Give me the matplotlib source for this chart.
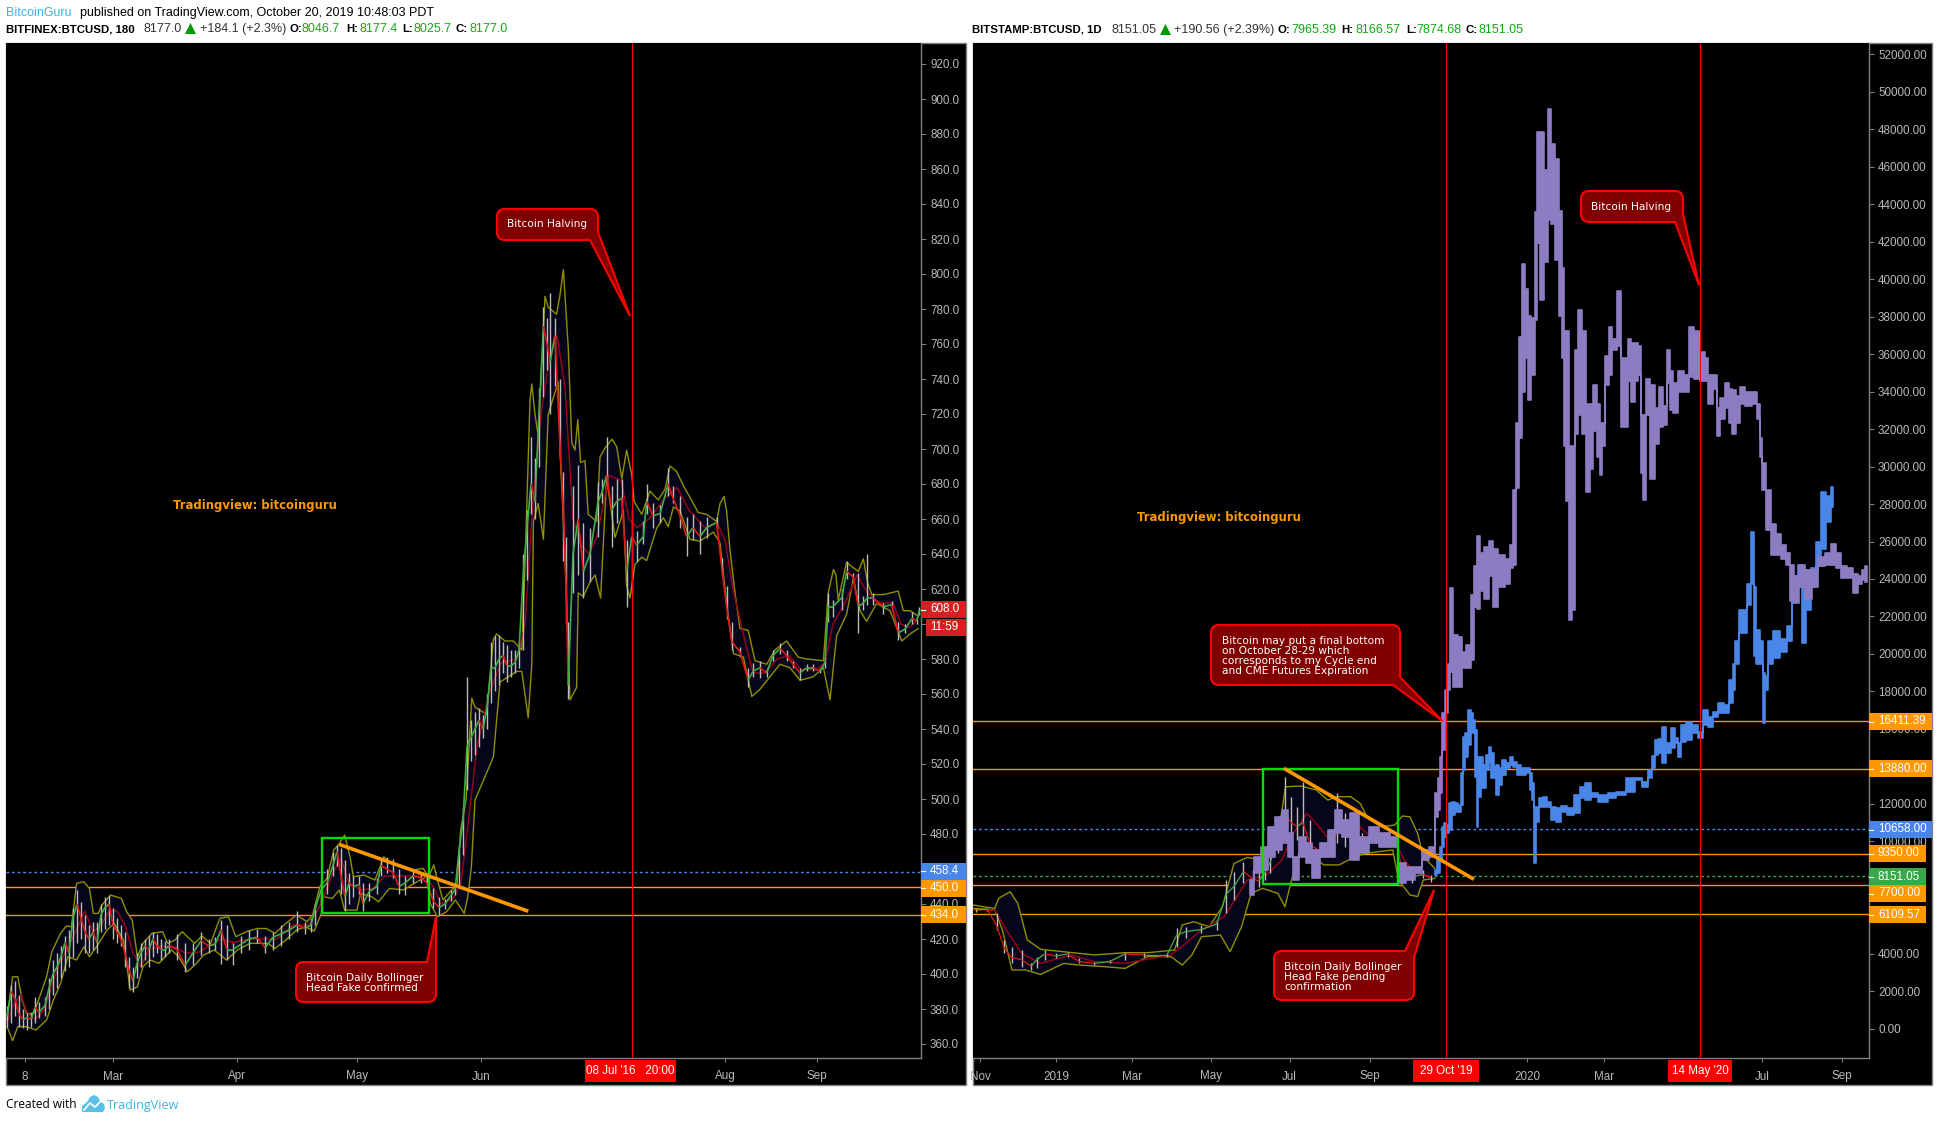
import numpy as np
import matplotlib
matplotlib.use("Agg")
import matplotlib.pyplot as plt
from matplotlib.path import Path
from matplotlib.patches import PathPatch, Rectangle, Polygon
from matplotlib.lines import Line2D
from matplotlib.collections import LineCollection
from matplotlib.transforms import Affine2D

plt.rcParams['font.family'] = ['Liberation Sans', 'DejaVu Sans']

W, H = 1939, 1122

# ---- left chart, BITFINEX 2016, x is days since 8 Feb (Aug halt squeezed out)
l_days = [-4.5,-3.5,-2.5,-1.5,-0.5,0.5,1.5,2.5,3.5,5,6,7,8,9,10,11,12,13,14,15,16,17,18,19,20,21,22,23,24,25,26,27,28,29,30,31,32,33,34,35,
          36,38,40,42,44,46,47.5,49,50.5,52,54,56,58,60,62,64,66,68,70,71.5,72.5,74,75.5,77,78,79,80,81,82,83.5,84.5,86,88,89,90.5,92,93.5,95,97,99,100.5,
          102,103.5,105,106.5,107.5,108.5,109.5,110.5,111.5,112.5,113.5,114.5,115.5,116.5,117.5,118.5,119.5,120.5,121.5,122.5,123.5,124.6,125.5,126.5,127.5,128.5,129.6,130.5,131.3,132.5,133.8,134.6,135.3,135.8,
          137,138.3,139.6,141.25,143.3,144.2,145.4,146.7,147.9,149.2,150.4,151.7,152.9,154.6,155.4,157,158.75,160.8,162,163.75,165.4,167,168.75,170.4,172.9,174.2,175.4,176.7,178.75,180.8,182,183.75,185.4,187,188.75,190.4,192,193.75,195.4,197,198.75,200,200.8,202,204.2,205.4,207,208.3,209.6,210.6,212,214.6,216.7,218.3,220,221.7,223,223.6]
l_low = [370,372,376,370,369,368,370,372,375,376,380,388,392,398,402,404,410,418,420,412,412,414,412,424,426,428,420,418,416,404,392,390,398,404,408,404,410,412,408,410,
         412,408,401,405,411,412,414,406,408,405,412,414,418,412,414,416,420,424,423,424,428,440,446,456,462,446,436,440,444,446,436,442,446,456,458,455,446,445,452,452,450,
         438,434,437,442,445,449,468,505,522,525,530,535,540,555,562,565,572,567,570,572,575,585,625,663,660,690,730,745,720,736,695,636,600,557,
         618,628,615,624,650,669,679,644,658,663,610,618,636,646,663,655,658,673,669,655,639,648,640,649,655,628,603,585,581,564,570,569,570,579,583,579,575,568,573,573,572,575,601,604,608,626,624,595,608,611,611,606,609,591,595,600,600,605]
l_high = [382,394,396,388,380,378,378,387,384,387,398,408,412,416,422,425,438,448,441,434,428,430,430,440,444,445,438,432,428,424,410,404,412,418,420,422,424,423,420,419,
          420,423,418,418,424,420,421,431,428,418,422,425,426,422,424,428,430,436,430,432,440,453,460,470,474,472,465,458,456,456,452,452,455,466,467,466,460,456,460,458,458,
          449,444,443,448,450,474,495,570,545,550,552,548,560,590,593,594,590,588,585,585,590,640,665,707,695,735,781,775,789,775,740,687,650,601,
          679,691,658,655,681,683,707,679,683,683,648,665,653,659,680,669,668,689,679,673,661,663,659,661,661,638,622,601,587,575,578,579,575,585,589,585,579,575,577,577,575,581,618,614,620,636,629,629,616,640,618,612,613,601,600,607,604,610]
l_close = [376,390,386,377,374,375,374,381,378,382,392,400,404,410,418,412,432,440,432,424,420,424,418,434,438,440,428,424,420,412,402,396,406,412,416,414,420,416,414,414,
           416,414,405,412,419,416,417,425,414,414,417,420,421,415,421,423,425,428,426,428,437,448,452,462,470,456,444,452,450,451,440,447,450,462,460,458,450,452,456,455,452,
           442,438,440,445,448,470,488,530,535,540,545,540,552,575,575,580,582,576,576,578,585,630,655,680,670,720,770,760,750,765,700,665,620,565,
           640,660,630,640,670,675,685,665,670,672,630,650,645,650,670,662,663,680,672,662,650,655,650,655,658,632,610,590,584,568,573,575,572,582,586,582,577,572,575,575,573,578,610,610,615,630,627,610,612,615,615,610,611,595,597,603,602,608]

l_up_days = [-4.5,-3.1,-1.8,-0.7,0.4,2.2,5.4,6.7,8.9,10.3,11.6,12.9,14.7,16.1,17.1,18.3,19.2,21.4,24.1,25.4,26.8,28.1,29.5,31.7,34.4,35.7,37.5,39.3,40.6,42.4,44.2,46.4,48.7,50.9,52.7,55.4,58,60.3,62.5,65.2,67.9,70.5,71.9,73.7,75.5,77.2,78.6,79.9,81.25,82.1,84.8,87.5,89.7,91.5,93.75,97.3,99.5,100.9,102.2,103.1,104.5,106.25,108,108.9,110.25,
             111.7,112.5,115.4,117.1,117.9,120,122.1,124.2,125,126.25,126.7,127.5,128.3,129.2,130,130.8,132.9,133.75,134.6,135.4,135.8,136.7,137.5,138.2,138.9,140,140.8,142.9,143.75,145,146.7,147.9,149.2,150.4,151.7,152.3,154.2,156.25,158.3,160,161.25,162.9,164.6,167.1,168.3,170.4,172.9,173.75,174.75,175.4,176.25,177.5,178.75,180.8,182.1,182.5,185.4,187.5,190.4,193.3,195.4,199.6,200.8,202.1,202.75,203.3,205.4,208.3,209.6,210.6,211.7,214.6,218.3,219.6,221.25,223.3]
l_up = [373.7,398.4,398.4,385.1,377.5,377.5,398.4,412.7,423.2,427.4,427,451.8,452.7,448.9,434.6,434.6,439.4,445.1,443.2,435.6,430.8,409.9,417.5,423.2,424.2,417.5,419.4,424.2,421.3,417.5,421.7,417.5,431.8,432.7,421.3,424.2,426,426,423.2,428.9,433.7,429.9,433.7,449.9,454.6,470.8,474.6,479.4,467,455.6,456.5,453.7,467,463.2,461.3,459.4,460.4,455.6,462.3,453.7,442.3,447,450.8,482,499.4,
        557.6,552.5,548.4,591.3,594.3,590.3,590.3,585.2,634.1,728,737.2,719.9,707.6,748.4,787.2,781,777,788.2,802.5,773,758.6,703.5,699.4,716.8,692.3,693.3,662.7,658.6,695.4,700.5,705.6,701.5,683.1,699.4,685.2,669.9,662.7,676,670.9,677,690.3,687.2,679,668.8,663.7,662.7,658.6,668.8,672.9,664.7,642.3,617.8,597.4,596.4,583.1,579,577,585.2,590.3,581.1,580,579,617.8,631.1,628,613.7,635.2,630,637.2,624,616.8,616.8,618.8,607.6,607.6,604.5]
l_dn_days = [-4.5,-3.1,-1.8,0.4,2.7,5.4,7.1,8.9,10.7,12.9,14.7,16.1,17.9,20.5,22.3,24.6,26.3,28.1,29.5,31.25,33.5,36.6,38.4,40.6,42.9,44.6,47.3,50.4,53.1,56.25,60.7,62.5,65.2,67.9,70.1,72.3,74.1,74.5,76.8,78.6,79.9,83,83.9,86.6,88.4,91.1,94.6,97.3,100.4,101.3,103.1,105.4,107.6,109.8,110.7,111.6,112.5,
             117.1,118.75,122.9,124.2,125.8,126.7,127.1,128.3,129.6,130.8,133.3,133.75,135,136.25,137.9,138.3,139.6,141.25,142.5,143.9,145.4,147.5,149.6,150.4,151.25,152.5,154.2,155.4,157.9,159.6,160.8,162.1,163.75,166.25,168.75,172.1,173.75,175.4,177.1,179.6,181.7,183.75,186.25,188.75,191.25,193.75,197.1,199.6,201.25,202.9,205.4,207.1,208.75,210.4,212.9,216.25,219.2,221.25,223.3]
l_dn = [369.9,361.9,369.9,369.9,368,373.7,385.1,394.6,409.9,408,415.6,409.9,415.6,425.1,428.9,419.4,390.8,392.7,404.2,408,406.1,413.7,409.9,401.3,406.1,410.8,413.7,408,413.7,417.5,417.5,414.6,419.4,425.1,427,424.5,434.6,444.2,443.2,448,436.5,436.5,446,444.2,441.3,448.9,448,451.8,455.6,440.4,432.7,435.6,442.3,434.6,444.2,461.3,499.4,
        524,566.8,572.9,572.9,546.4,577,658.6,668.8,648.4,719.9,738.2,699.4,638.2,556.6,563.7,617.8,615.8,624,628,614.8,683.1,649.4,664.7,621.9,614.8,634.1,638.2,636.2,654.6,660.7,655.6,666.8,664.7,648.4,647.4,652.5,646.4,611.7,583.1,581.1,558.6,562.7,569.9,577,575,567.8,569.9,575,556.6,593.3,605.6,626,607.6,601.5,611.7,607.6,590.3,594.3,597.4]
l_mid_days = [-4.5,-3,-1,0.5,2.5,5,7,9,11,13,15,17,19,21,23,25,27,29,31,34,37,40,43,46,49,52,56,60,63,67,71,74,77,79,81,84,87,90,93,97,100,102,104,107,109,111,113,116,119,123,125,127,129,131,133,135,137,139,141,143,146,149,151,153,156,160,163,166,170,173,175,177,180,182,185,188,191,194,198,200,202,205,208,210,213,217,219,221,223]
l_mid = [372,382,388,378,374,380,396,408,416,426,436,424,428,436,436,428,412,404,414,416,416,412,412,416,420,418,420,420,420,428,428,440,458,466,452,448,449,456,456,456,456,450,440,443,452,490,530,560,578,580,600,670,720,750,765,735,660,645,640,650,685,682,660,655,660,672,678,665,655,658,648,620,590,572,572,580,582,574,574,578,600,612,628,620,612,612,600,598,602]

l_yticks = list(range(360, 921, 20))
l_xticks = [0, 22, 53, 83, 114, 175, 198]
l_xlabels = ['8', 'Mar', 'Apr', 'May', 'Jun', 'Aug', 'Sep']
l_halving = 151.75
l_orange = [450.0, 434.0]
l_blue = 458.4
l_trend_x, l_trend_y = [79, 125.4], [473.7, 436.2]
l_box = (74.3, 435, 26.6, 43)

# ---- right chart, BITSTAMP daily, x is days since 1 Jan 2020
r_days = [-427.4,-418.5,-411.1,-405.2,-399.3,-391.8,-384.4,-380,-374,-365.1,-356.2,-347.3,-335.5,-323.6,-311.7,-296.9,-279.1,-271.7,-264.3,-252.4,-240.6,-233.1,-227.2,-219.8,-212.4,-207.9,-203.5,-199,-193.1,-187.7,-182.7,-178.2,-173.8,-167.9,-160.5,-153,-147.1,-141.2,-135.2,-127.8,-118.9,-107.1,-101.1,-96.7,-89.2,-80.4,-74.4]
r_low = [6260,6310,5280,4030,3500,3320,3150,3230,3680,3770,3860,3500,3410,3500,3680,3860,3860,4390,4830,5100,5280,6170,6880,7770,7590,7590,7940,8300,9370,10260,10430,10080,9720,9010,9190,9370,9900,9720,9720,9550,9900,9720,9900,7950,7770,8030,7860]
r_high = [6430,6430,6170,4750,4390,4210,3500,3860,4210,4030,4120,3770,3590,3680,4120,4030,4070,5370,5460,5540,5810,7950,8390,8920,8480,8300,8660,9190,10790,13460,12390,11860,13190,11150,9900,10260,12570,11500,10790,10430,10790,10520,10260,8830,8480,8480,8210]
r_close = [6350,6400,5500,4300,3800,3700,3350,3700,4000,3900,4000,3600,3500,3600,4000,3950,3950,5000,5200,5300,5600,7200,7600,8400,8000,7900,8300,8900,10200,11500,11000,10800,11000,9800,9500,9900,11000,10400,10100,10000,10300,10100,10050,8300,8100,8250,8050]

r_up_days = [-429.5,-412.6,-409.6,-400.7,-394.8,-387.4,-377,-359.2,-335.5,-311.7,-294,-273.2,-267.3,-258.4,-246.5,-236.1,-227.2,-216.8,-205,-199,-193.1,-187.2,-175.3,-163.4,-154.5,-147.1,-136.7,-129.3,-123.4,-113,-102.6,-96.7,-90.8,-84.8,-80.4,-71.5]
r_up = [6610,6430,6970,7320,6700,4750,4250,4120,3950,4070,4070,4210,5550,5720,5460,6520,8830,9150,9010,9460,10260,12920,12960,12750,12210,12390,12390,12030,11230,10790,10880,11360,11320,10430,9190,8570]
r_dn_days = [-429.5,-412.6,-406.7,-399.3,-388.9,-377,-359.2,-347.3,-326.6,-311.7,-294,-276.1,-267.3,-259.8,-252.4,-237.6,-230.2,-221.3,-213.9,-205,-193.1,-187.7,-181.2,-173.8,-166.4,-157.5,-145.6,-133.8,-124.9,-104.1,-99.6,-90.8,-84.8,-80.4,-71.5]
r_dn = [6430,6350,5280,3150,3150,2910,3500,3410,3320,3230,3860,3860,3410,3950,4920,5010,4120,5460,7230,7500,7230,6520,8300,10080,9190,8750,8750,9190,9370,9550,7950,7150,7060,7950,8030]
r_mid_days = [-429.5,-412.6,-403.7,-391.8,-377,-353.3,-335.5,-311.7,-276.1,-264.3,-252.4,-234.6,-216.8,-202,-190.1,-181.2,-170.8,-163.4,-153,-139.7,-132.3,-121.9,-104.1,-95.2,-86.3,-74.4]
r_mid = [6350,6350,5280,4030,3500,3950,3590,3500,3950,4570,5280,6000,7950,8210,9010,10430,11500,10970,10080,10790,10970,10260,10260,9010,8300,8120]

purple_days = [-214.4,-209.4,-203.5,-197.5,-193.1,-187.2,-182.7,-179.7,-173.8,-169.4,-163.4,-157.5,-151.6,-145.6,-141.2,-133.8,-126.3,-118.9,-110,-102.6,-97.6,-90.8,-83.3,-78.9,-73,-69.5,-68,-66.2,-64.9,-62.3,-61,-58.6,-55.8,-51.9,-49.3,-45.4,-42.1,-40.3,-37.7,-35.1,-31.2,-27.3,-24.8,-19.6,-15.2,-11.8,-9.3,-7.4,-5.4,-2.8,-0.2,1.9,5,7,8.8,11.4,14.8,17.4,20.5,23.6,25.6,28.2,29.5,31.3,33.9,36,37.8,41.6,44.2,47.6,50.2,52.8,55.3,57.2,59.7,61.8,64.9,67.5,71.6,74.7,76.8,79.4,82.5,84.5,87.6,88.9,90.7,94.1,97.2,101.1,103.1,107,109.6,112.2,114.8,120,123.8,127.7,131.6,136.2,139.3,141.9,145.8,148.4,151,155.3,157.9,160.5,163.9,166.5,171.6,176.8,179.4,181.2,183.8,187.1,191,194.9,198.8,202.6,205.2,209.1,213,218.1,223.3,228.5,233.6,237.5,242.2,245.3,250.4,254.3,258.2,260.8,263.9]
purple_low = [7150,8300,8480,9190,9550,9900,9190,7950,9190,8830,8030,9190,9190,10430,10260,9010,9370,9900,9720,9720,7770,7950,8300,9010,9190,11320,11680,12570,14880,16835,18080,19060,18240,18240,19260,19260,19670,22530,22420,23340,22930,24160,22530,23550,23750,24570,24770,28850,31510,33950,35790,33550,34870,37830,41920,38860,40900,43140,42940,40990,38040,35790,31100,28140,21810,22320,31710,32730,31710,28650,29870,31910,30490,29570,31100,34360,34870,36200,36410,32120,32120,34570,33450,34570,34870,29670,28240,32730,29360,31200,32120,32220,34470,33040,32830,33960,33960,34770,34670,34570,34570,33340,34160,31610,32530,33140,32330,31710,32330,33340,33240,33340,32530,30490,28750,26610,25280,25280,25080,24770,22830,22730,23550,22930,23550,24670,24770,24770,24570,24060,24060,23240,23750,23950,23850]
purple_high = [7950,9190,9720,10790,11320,11680,10430,9190,10260,9900,9550,9900,10610,11680,11150,11500,10260,10790,10430,10260,8830,8660,8660,9550,9720,12570,13370,14520,16835,18080,19460,23540,20990,20890,20080,20490,23140,24670,26300,25380,25690,26040,25590,25280,25080,25790,28750,32320,36920,40790,39470,38040,37940,43550,47830,47830,45790,49060,47220,46410,43650,40590,37220,37220,31100,31100,36200,38340,37220,33340,33340,34360,33340,32320,32320,35900,37430,36810,39370,35790,35790,36810,36610,36610,36410,32730,32730,34670,34360,33140,34260,33240,36200,35080,34470,35080,34870,37430,37220,36100,35790,34870,34870,33140,33650,34470,34160,34060,33750,34260,33960,33960,33340,31510,30180,28750,26920,26410,25790,25380,24770,24160,24770,24470,24470,25180,25380,25870,25380,24670,24570,24260,24160,24470,24670]

blue_days = [-71.3,-68.7,-66.9,-65.4,-63.6,-61.8,-59.7,-57.1,-54.5,-51.9,-50.1,-48.6,-46.8,-44.7,-42.9,-40.8,-39.8,-38.5,-37,-35.1,-32.6,-30.8,-28.7,-26.9,-24.8,-23,-20.9,-17.8,-14.5,-11.9,-9.3,-6,-2.8,1,3.1,4.9,5.7,7.5,10.8,13.9,17.3,19.9,24.3,28.2,33.4,39.8,42.4,47.6,51.5,59.2,65.7,72.1,81.2,86.3,91.5,95.4,98.5,100.6,102.6,106.2,109.6,113,116,118.1,121.2,125.1,130.3,134.1,138.8,141.9,145.8,150.2,154.8,158.7,160,162.6,166.5,169,172.4,175,176.3,178.6,182,183.2,185.8,188.4,193.6,198.8,203.9,206.5,209.1,211.7,214.3,218.1,222,225.9,229.8,233.6,237]
blue_low = [8210,8300,9010,9720,10260,10430,10610,11410,11590,11590,11950,13810,14520,15150,15770,15770,13460,10790,12390,12840,12840,13810,14260,13370,13370,12480,13010,13550,13900,14080,13990,13550,13550,13640,12750,12210,8830,11060,11860,11860,11860,11150,11060,11590,11410,11500,12300,12210,12390,12120,12300,12480,12660,13280,12920,13370,13900,14610,14700,14170,14700,14970,15230,14520,15320,15410,15770,15500,16210,16120,16660,16840,16840,17370,18080,19460,21100,21100,22630,23750,19870,19460,19460,16300,18080,19460,19770,20080,20690,22730,23340,24360,20590,22320,23550,24670,25590,27020,27830]
blue_high = [8480,9190,9720,10790,10970,10880,12040,12120,12040,11950,13630,15590,15770,17010,16840,16480,15950,14520,14520,14520,14080,14610,15060,14700,13990,14080,13900,14350,14170,14520,14260,14080,13900,13900,13640,13100,11860,11860,12300,12390,12120,11860,11770,11890,11770,12480,12920,13100,12570,12480,12570,12660,13370,13370,13190,13810,14560,15410,15450,16120,15230,16030,15500,15230,16210,16390,16210,15860,17010,16660,16920,17400,17280,18610,19460,20690,22320,22320,23750,26510,23550,21300,20690,19000,18850,20690,21200,20790,21510,23750,24160,24770,23750,23550,24570,25996,28650,28450,28910]

r_yticks = list(range(0, 52001, 2000))
r_xticks = [-424, -365, -306, -245, -184, -122, 0, 60, 182, 244]
r_xlabels = ['Nov', '2019', 'Mar', 'May', 'Jul', 'Sep', '2020', 'Mar', 'Jul', 'Sep']
r_cycle, r_halving = -63, 134
r_orange = [16411.39, 13880.00, 9350.00, 7700.00, 6109.57]
r_blue, r_green = 10658.00, 8151.05
r_trend_x, r_trend_y = [-187.2, -42.4], [13850, 8034]
r_box = (-204.4, 7730, 104.2, 6120)

ORANGE = '#ff9800'
GREY = '#b8b8b8'
AXIS = '#808080'
LBLUE = '#4a86e8'
LGREEN = '#3aa84a'
TV = '#3bb3e4'
UP = '#11aa11'

fig = plt.figure(figsize=(W / 100, H / 100), dpi=100, facecolor='white')
# display pixels with y going down, for the chrome around the charts
px = Affine2D().scale(1, -1).translate(0, H)


def txt(x, y, s, color='black', size=8, **kw):
    kw.setdefault('va', 'center')
    fig.text(x, y, s, color=color, fontsize=size, transform=px, zorder=10, **kw)


def make_axes(x0, x1, y0, y1):
    # black panel with grey frame first, the axes sits on top
    fig.add_artist(Rectangle((x0, 43), y0 - x0, 1042, transform=px, fc='black', ec=AXIS, lw=1, zorder=-1))
    ax = fig.add_axes([x0 / W, 1 - 1058 / H, (x1 - x0) / W, (1058 - 43) / H], facecolor='black')
    for s in ('left', 'top'):
        ax.spines[s].set_visible(False)
    for s in ('right', 'bottom'):
        ax.spines[s].set_color(AXIS)
        ax.spines[s].set_linewidth(1)
    ax.yaxis.tick_right()
    ax.tick_params(axis='y', colors=GREY, length=3.6, width=0.75, pad=2.9, labelsize=8.4, color=AXIS)
    ax.tick_params(axis='x', colors=GREY, length=3, width=0.75, pad=6, labelsize=8.4, color=AXIS)
    return ax


def candles(ax, days, low, high, close, wick, body):
    ax.vlines(days, low, high, colors='#bcbcbc', lw=wick, zorder=3)
    opens = [close[0]] + close[:-1]
    cols = ['#3fae4a' if c >= o else '#e01818' for o, c in zip(opens, close)]
    # bodies joined up so the run of bars reads as one red/green strand
    segs = [[(days[max(i - 1, 0)], opens[i]), (days[i], close[i])] for i in range(len(days))]
    ax.add_collection(LineCollection(segs, colors=cols, lw=body, zorder=3.1))


def bands(ax, ud, u, dd, d, md, m, lw):
    ax.fill(np.r_[ud, dd[::-1]], np.r_[u, d[::-1]], color='#06061a', lw=0, zorder=1.5)
    ax.plot(ud, u, color='#8f8f00', lw=lw, zorder=2)
    ax.plot(dd, d, color='#8f8f00', lw=lw, zorder=2)
    ax.plot(md, m, color='#a00018', lw=lw, zorder=2.5)


def bubble(points, sharp, r=8):
    # outline of a note, corners rounded except the ones of the tail
    verts, codes = [], []
    n = len(points)
    for i, p in enumerate(points):
        p = np.array(p, float)
        if i in sharp:
            verts.append(p)
            codes.append(Path.LINETO)
        else:
            a = np.array(points[i - 1], float)
            b = np.array(points[(i + 1) % n], float)
            verts += [p + (a - p) / np.linalg.norm(a - p) * r, p, p + (b - p) / np.linalg.norm(b - p) * r]
            codes += [Path.LINETO, Path.CURVE3, Path.CURVE3]
    codes[0] = Path.MOVETO
    verts.append(verts[0])
    codes.append(Path.CLOSEPOLY)
    fig.add_artist(PathPatch(Path(verts, codes), transform=px, fc='#800000', ec='#ff0000', lw=1.5, zorder=8))


def price_label(x0, x1, yc, s, color, tx):
    fig.add_artist(Rectangle((x0, yc - 8.5), x1 - x0, 17, transform=px, fc=color, ec='none', zorder=9))
    fig.add_artist(Line2D([x0, x0 + 4], [yc, yc], transform=px, color='white', lw=0.8, zorder=9.5))
    txt(tx, yc, s, color='white', size=8.4)


# ---- left chart
ax1 = make_axes(6, 921, 966, 1058)
ax1.set_xlim(-4.75, 224)
ax1.set_ylim(352, 932)
ax1.set_yticks(l_yticks, ['%.1f' % v for v in l_yticks])
ax1.set_xticks(l_xticks, l_xlabels)
for v in l_orange:
    ax1.axhline(v, color=ORANGE, lw=1, zorder=1)
ax1.axhline(l_blue, color=LBLUE, lw=1, ls=(0, (2, 2)), zorder=1)
bands(ax1, l_up_days, l_up, l_dn_days, l_dn, l_mid_days, l_mid, 1)
candles(ax1, l_days, l_low, l_high, l_close, 1.0, 1.2)
ax1.axvline(l_halving, color='#ff0000', lw=0.75, zorder=4)
ax1.plot(l_trend_x, l_trend_y, color=ORANGE, lw=2.6, zorder=5)
ax1.add_patch(Rectangle(l_box[:2], l_box[2], l_box[3], fc='none', ec='#00dd00', lw=1.7, zorder=4.5))

# ---- right chart
ax2 = make_axes(972.6, 1869, 1932, 1058)
ax2.set_xlim(-429.8, 265.1)
ax2.set_ylim(-1547, 52587)
ax2.set_yticks(r_yticks, ['%.2f' % v for v in r_yticks])
ax2.set_xticks(r_xticks, r_xlabels)
for v in r_orange:
    ax2.axhline(v, color=ORANGE, lw=1, zorder=1)
ax2.axhline(r_blue, color=LBLUE, lw=1, ls=(0, (2, 2)), zorder=1)
ax2.axhline(r_green, color=LGREEN, lw=1, ls=(0, (2, 2)), zorder=1)
bands(ax2, r_up_days, r_up, r_dn_days, r_dn, r_mid_days, r_mid, 1)
candles(ax2, r_days, r_low, r_high, r_close, 1.0, 0.9)
ax2.fill_between(blue_days, blue_low, blue_high, step='mid', color=LBLUE, lw=1.2, zorder=3.3)
ax2.fill_between(purple_days, purple_low, purple_high, step='mid', color='#8e7cc3', lw=1.2, zorder=3.5)
ax2.axvline(r_cycle, color='#ff0000', lw=0.75, zorder=4)
ax2.axvline(r_halving, color='#ff0000', lw=0.75, zorder=4)
ax2.plot(r_trend_x, r_trend_y, color=ORANGE, lw=2.6, zorder=5)
ax2.add_patch(Rectangle(r_box[:2], r_box[2], r_box[3], fc='none', ec='#00dd00', lw=1.7, zorder=4.5))

# ---- price scale labels
price_label(921, 966, 871, '458.4', LBLUE, 930)
price_label(921, 966, 888, '450.0', ORANGE, 930)
price_label(921, 966, 914.5, '434.0', ORANGE, 930)
price_label(921, 966, 609.5, '608.0', '#d42020', 930)
fig.add_artist(Rectangle((926, 619), 40, 17, transform=px, fc='#d42020', ec='none', zorder=9))
txt(930, 627.5, '11:59', color='white', size=8.4)
price_label(1869, 1932, 721.5, '16411.39', ORANGE, 1878)
price_label(1869, 1932, 768.5, '13880.00', ORANGE, 1878)
price_label(1869, 1932, 829.5, '10658.00', LBLUE, 1878)
price_label(1869, 1926, 853.5, '9350.00', ORANGE, 1878)
price_label(1869, 1926, 876.5, '8151.05', LGREEN, 1878)
price_label(1869, 1926, 893.5, '7700.00', ORANGE, 1878)
price_label(1869, 1926, 914.5, '6109.57', ORANGE, 1878)

for x0, x1, s in [(585, 676, "08 Jul '16   20:00"), (1413, 1479, "29 Oct '19"), (1668, 1732, "14 May '20")]:
    fig.add_artist(Rectangle((x0, 1060), x1 - x0, 22, transform=px, fc='#ff0000', ec='none', zorder=9))
    txt((x0 + x1) / 2, 1071, s, color='white', size=8.4, ha='center')

# ---- notes
bubble([(497, 209), (598, 209), (598, 232), (630, 316), (590, 240), (497, 240)], {2, 3, 4})
bubble([(296, 962), (427, 962), (436, 917), (436, 980), (436, 1002), (296, 1002)], {1, 2, 3})
bubble([(1581, 191), (1683, 191), (1683, 214), (1699, 285), (1675, 222), (1581, 222)], {2, 3, 4})
bubble([(1211, 625), (1400, 625), (1400, 677), (1442.5, 721), (1393, 685), (1211, 685)], {2, 3, 4})
bubble([(1274, 951), (1405, 951), (1434, 890), (1414, 958), (1414, 1000), (1274, 1000)], {1, 2, 3})

note = dict(color='white', size=7.6, family='DejaVu Sans')
txt(547, 224, 'Bitcoin Halving', ha='center', **note)
txt(1631, 207, 'Bitcoin Halving', ha='center', **note)
for i, s in enumerate(['Bitcoin Daily Bollinger', 'Head Fake confirmed']):
    txt(306, 978 + 10 * i, s, **note)
for i, s in enumerate(['Bitcoin may put a final bottom', 'on October 28-29 which', 'corresponds to my Cycle end', 'and CME Futures Expiration']):
    txt(1222.5, 640.7 + 10 * i, s, **note)
for i, s in enumerate(['Bitcoin Daily Bollinger', 'Head Fake pending', 'confirmation']):
    txt(1284.5, 967 + 10 * i, s, **note)

wm = dict(color=ORANGE, size=8.4, family='DejaVu Sans', weight='bold')
txt(173, 506, 'Tradingview: bitcoinguru', **wm)
txt(1137, 518, 'Tradingview: bitcoinguru', **wm)

# ---- header
head = dict(size=9, family='Liberation Sans')
bold = dict(size=8.2, family='Liberation Sans', weight='bold')
txt(6, 13, 'BitcoinGuru', color=TV, **head)
txt(80, 13, 'published on TradingView.com, October 20, 2019 10:48:03 PDT', **head)

txt(6, 29, 'BITFINEX:BTCUSD, 180', **bold)
txt(143, 29, '8177.0', color='#333333', **head)
txt(199.5, 29, '+184.1 (+2.3%)', color='#333333', **head)
for x, s in [(289, 'O:'), (346, 'H:'), (402, 'L:'), (456, 'C:')]:
    txt(x, 29, s, **bold)
for x, s in [(302, '8046.7'), (359, '8177.4'), (413, '8025.7'), (469, '8177.0')]:
    txt(x, 29, s, color=UP, **head)

txt(972, 30, 'BITSTAMP:BTCUSD, 1D', **bold)
txt(1111, 30, '8151.05', color='#333333', **head)
txt(1174, 30, '+190.56 (+2.39%)', color='#333333', **head)
for x, s in [(1278, 'O:'), (1341.5, 'H:'), (1406, 'L:'), (1466, 'C:')]:
    txt(x, 30, s, **bold)
for x, s in [(1291, '7965.39'), (1355, '8166.57'), (1416.5, '7874.68'), (1478.5, '8151.05')]:
    txt(x, 30, s, color=UP, **head)

for x, y in [(185, 29), (1160, 30)]:
    fig.add_artist(Polygon([(x, y + 5), (x + 11, y + 5), (x + 5.5, y - 6)], transform=px, fc='#009900', ec='none'))

# ---- footer
txt(6, 1105, 'Created with', size=8.6, family='Open Sans')
txt(106.5, 1105, 'TradingView', color=TV, size=9, family='Open Sans')
cloud = [(82, 1112), (82, 1106), (87, 1102), (90, 1097), (94, 1095), (98, 1097), (100, 1101), (104, 1104), (105, 1108), (103, 1112)]
fig.add_artist(Polygon(cloud, transform=px, fc='#5bc0e8', ec='none', zorder=9))
fig.add_artist(Line2D([84, 90, 95, 100], [1110, 1103, 1107, 1102], transform=px, color='white', lw=1.2, zorder=9.5))

fig.savefig('out.png', dpi=100, facecolor='white')
